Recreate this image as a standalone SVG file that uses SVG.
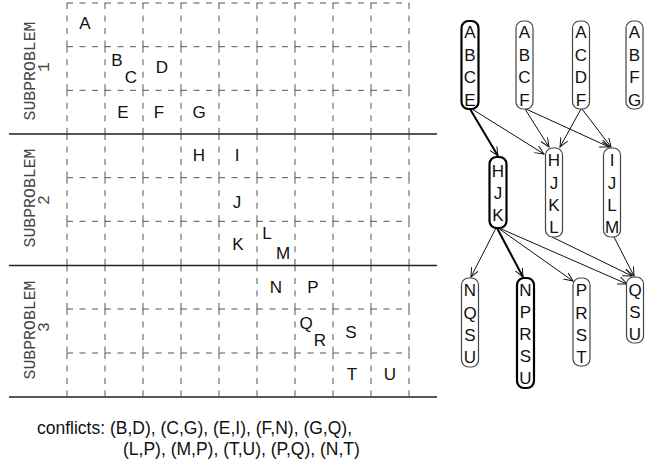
<svg xmlns="http://www.w3.org/2000/svg" width="653" height="467" viewBox="0 0 653 467">
<style>
.grid{fill:none;stroke:#555;stroke-width:1;stroke-dasharray:6 6.5}
.solid{fill:none;stroke:#222;stroke-width:1.4}
.lbl{font-family:"Liberation Mono","DejaVu Sans Mono",monospace;font-size:16.5px;fill:#444;text-anchor:middle}
.g{font-family:"Liberation Sans",Arial,sans-serif;font-size:17px;fill:#111;text-anchor:middle}
.ct{font-family:"Liberation Sans",Arial,sans-serif;font-size:17.5px;fill:#111}
.box{fill:#fff;stroke:#444;stroke-width:1.2}
.boxb{fill:#fff;stroke:#000;stroke-width:2.2}
.e{fill:none;stroke:#111;stroke-width:1;marker-end:url(#arr)}
.eb{fill:none;stroke:#000;stroke-width:2;marker-end:url(#arr)}
</style>
<defs>
<marker id="arr" markerUnits="userSpaceOnUse" markerWidth="12" markerHeight="12" refX="9" refY="4" orient="auto">
<path d="M0,0 L9,4 L0,8" fill="none" stroke="#111" stroke-width="1"/>
</marker>
<path id="vcol" d="M0 3V46.7M0 46.7V90.3M0 90.3V134M0 134V177.7M0 177.7V221.3M0 221.3V265.5M0 265.5V309M0 309V353M0 353V397"/>
<path id="hrow" d="M67 0H105M105 0H143M143 0H181M181 0H219M219 0H257M257 0H295M295 0H333M333 0H371M371 0H409"/>
</defs>
<rect width="653" height="467" fill="#fff"/>

<g id="grid" class="grid">
<use href="#vcol" x="67"/><use href="#vcol" x="105"/><use href="#vcol" x="143"/><use href="#vcol" x="181"/><use href="#vcol" x="219"/>
<use href="#vcol" x="257"/><use href="#vcol" x="295"/><use href="#vcol" x="333"/><use href="#vcol" x="371"/><use href="#vcol" x="409"/>
<use href="#hrow" y="3"/><use href="#hrow" y="46.7"/><use href="#hrow" y="90.3"/>
<use href="#hrow" y="177.7"/><use href="#hrow" y="221.3"/>
<use href="#hrow" y="309"/><use href="#hrow" y="353"/>
</g>
<g id="separators" class="solid">
<path d="M9 134H437M9 265.5H437M9 397H437"/>
</g>

<g id="labels">
<text class="lbl" transform="translate(35,71) rotate(-90)">SUBPROBLEM</text>
<text class="lbl" transform="translate(49,67) rotate(-90)">1</text>
<text class="lbl" transform="translate(35,198) rotate(-90)">SUBPROBLEM</text>
<text class="lbl" transform="translate(49,200) rotate(-90)">2</text>
<text class="lbl" transform="translate(35,330) rotate(-90)">SUBPROBLEM</text>
<text class="lbl" transform="translate(49,327) rotate(-90)">3</text>
</g>

<g id="gridletters" class="g">
<text x="85" y="29">A</text>
<text x="117" y="66">B</text>
<text x="131" y="83">C</text>
<text x="162" y="73">D</text>
<text x="123" y="118">E</text>
<text x="159" y="118">F</text>
<text x="199" y="118">G</text>
<text x="199" y="161">H</text>
<text x="237" y="161">I</text>
<text x="237" y="208">J</text>
<text x="238" y="250">K</text>
<text x="267" y="239">L</text>
<text x="283" y="259">M</text>
<text x="276" y="293">N</text>
<text x="313" y="293">P</text>
<text x="306" y="329">Q</text>
<text x="320" y="346">R</text>
<text x="351" y="338">S</text>
<text x="352" y="380">T</text>
<text x="390" y="380">U</text>
</g>

<g id="conflicts" class="ct">
<text x="37" y="434">conflicts: (B,D), (C,G), (E,I), (F,N), (G,Q),</text>
<text x="123" y="455">(L,P), (M,P), (T,U), (P,Q), (N,T)</text>
</g>

<g id="connectors">
<path class="eb" d="M470 109L498 156"/>
<path class="e" d="M472 109L544 154"/>
<path class="e" d="M525 109L549 147"/>
<path class="e" d="M526 109L609 147"/>
<path class="e" d="M581 109L560 147"/>
<path class="e" d="M582 109L611 147"/>
<path class="e" d="M496 228L471 277"/>
<path class="eb" d="M497 228L523 277"/>
<path class="e" d="M498 228L573 281"/>
<path class="e" d="M499 228L627 284"/>
<path class="e" d="M552 237L632 276"/>
<path class="e" d="M614 237L634 276"/>
</g>

<g id="ABCE">
<rect class="boxb" x="461.5" y="21" width="17" height="88" rx="7"/>
<text class="g" x="470" y="38">A</text><text class="g" x="470" y="60.5">B</text><text class="g" x="470" y="83">C</text><text class="g" x="470" y="105.5">E</text>
</g>
<g id="ABCF">
<rect class="box" x="516" y="21" width="17" height="88" rx="7"/>
<text class="g" x="524.5" y="38">A</text><text class="g" x="524.5" y="60.5">B</text><text class="g" x="524.5" y="83">C</text><text class="g" x="524.5" y="105.5">F</text>
</g>
<g id="ACDF">
<rect class="box" x="572.5" y="21" width="17" height="88" rx="7"/>
<text class="g" x="581" y="38">A</text><text class="g" x="581" y="60.5">C</text><text class="g" x="581" y="83">D</text><text class="g" x="581" y="105.5">F</text>
</g>
<g id="ABFG">
<rect class="box" x="626" y="21" width="17" height="88" rx="7"/>
<text class="g" x="634.5" y="38">A</text><text class="g" x="634.5" y="60.5">B</text><text class="g" x="634.5" y="83">F</text><text class="g" x="634.5" y="105.5">G</text>
</g>
<g id="HJK">
<rect class="boxb" x="489.5" y="157" width="17" height="71" rx="7"/>
<text class="g" x="498" y="176.5">H</text><text class="g" x="498" y="198.5">J</text><text class="g" x="498" y="220.5">K</text>
</g>
<g id="HJKL">
<rect class="box" x="545.5" y="148" width="17" height="89" rx="7"/>
<text class="g" x="554" y="166">H</text><text class="g" x="554" y="188.5">J</text><text class="g" x="554" y="211">K</text><text class="g" x="554" y="233">L</text>
</g>
<g id="IJLM">
<rect class="box" x="603.5" y="148" width="17" height="89" rx="7"/>
<text class="g" x="612" y="166">I</text><text class="g" x="612" y="188.5">J</text><text class="g" x="612" y="211">L</text><text class="g" x="612" y="233">M</text>
</g>
<g id="NQSU">
<rect class="box" x="461.5" y="278" width="17" height="89" rx="7"/>
<text class="g" x="470" y="296">N</text><text class="g" x="470" y="318.5">Q</text><text class="g" x="470" y="341">S</text><text class="g" x="470" y="363">U</text>
</g>
<g id="NPRSU">
<rect class="boxb" x="517" y="278" width="17" height="110" rx="7"/>
<text class="g" x="525.5" y="296">N</text><text class="g" x="525.5" y="318">P</text><text class="g" x="525.5" y="340">R</text><text class="g" x="525.5" y="362">S</text><text class="g" x="525.5" y="384">U</text>
</g>
<g id="PRST">
<rect class="box" x="573" y="278" width="17" height="88" rx="7"/>
<text class="g" x="581.5" y="296">P</text><text class="g" x="581.5" y="318.5">R</text><text class="g" x="581.5" y="341">S</text><text class="g" x="581.5" y="363">T</text>
</g>
<g id="QSU">
<rect class="box" x="626.5" y="277" width="17" height="66" rx="7"/>
<text class="g" x="635" y="295.5">Q</text><text class="g" x="635" y="317.5">S</text><text class="g" x="635" y="339.5">U</text>
</g>
</svg>
